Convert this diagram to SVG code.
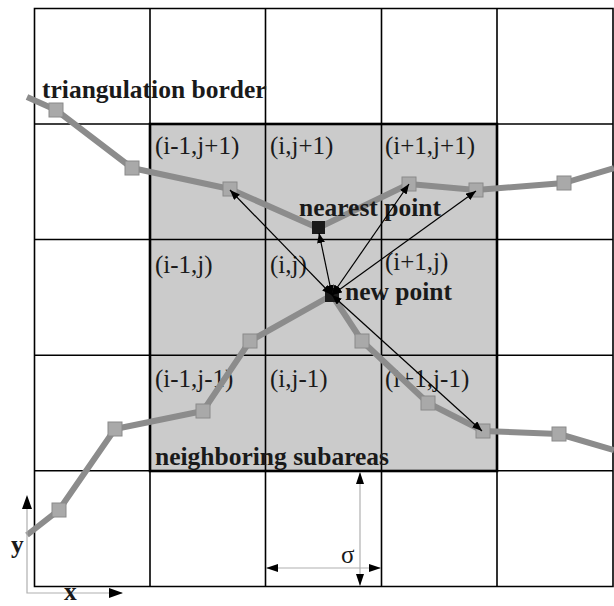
<svg xmlns="http://www.w3.org/2000/svg" width="614" height="606" viewBox="0 0 614 606">
<defs>
<marker id="ah" viewBox="0 0 10 8" refX="10" refY="4" markerWidth="10" markerHeight="8" markerUnits="userSpaceOnUse" orient="auto-start-reverse">
<path d="M0,0 L10,4 L0,8 Z" fill="#000"/>
</marker>
<marker id="ahg" viewBox="0 0 12 8" refX="12" refY="4" markerWidth="12" markerHeight="8" markerUnits="userSpaceOnUse" orient="auto-start-reverse">
<path d="M0,0 L12,4 L0,8 Z" fill="#000"/>
</marker>
<style>
.grid{stroke:#000;stroke-width:1.6;fill:none}
.border{stroke:#8c8c8c;stroke-width:6;fill:none;stroke-linejoin:round}
.sq{fill:#a9a9a9;stroke:#8a8a8a;stroke-width:1}
.bp{fill:#1a1a1a}
.arr{stroke:#000;stroke-width:1.2;fill:none}
.dim{stroke:#b0b0b0;stroke-width:1.2;fill:none}
.lbl{font-family:"Liberation Serif",serif;font-size:25px;fill:#1a1a1a}
.bold{font-family:"Liberation Serif",serif;font-size:25.5px;font-weight:bold;fill:#1a1a1a}
</style>
</defs>
<rect width="614" height="606" fill="#fff"/>
<g id="neighborhood">
<rect x="150" y="124" width="347" height="347" fill="#cbcbcb"/>
</g>
<g id="grid">
<path class="grid" d="M34.5,8.5 H613 V586.5 H34.5 Z M150,8.5 V586.5 M265.5,8.5 V586.5 M381.5,8.5 V586.5 M497,8.5 V586.5 M34.5,124 H613 M34.5,239.5 H613 M34.5,355.3 H613 M34.5,470.7 H613"/>
<rect x="150" y="124" width="347" height="347" fill="none" stroke="#000" stroke-width="2.6"/>
</g>
<g id="labels">
<text class="lbl" x="155" y="154">(i-1,j+1)</text>
<text class="lbl" x="270" y="154">(i,j+1)</text>
<text class="lbl" x="385" y="154">(i+1,j+1)</text>
<text class="lbl" x="155" y="273">(i-1,j)</text>
<text class="lbl" x="270" y="273">(i,j)</text>
<text class="lbl" x="385" y="270">(i+1,j)</text>
<text class="lbl" x="155" y="387">(i-1,j-1)</text>
<text class="lbl" x="270" y="387">(i,j-1)</text>
<text class="lbl" x="385" y="387">(i+1,j-1)</text>
</g>
<g id="border-upper">
<polyline class="border" points="27,97 56,110 132,168 230,189 318,228 409,184 476,190 564,183 614,168"/>
<rect class="sq" x="49" y="103" width="14" height="14"/>
<rect class="sq" x="125" y="161" width="14" height="14"/>
<rect class="sq" x="223" y="182" width="14" height="14"/>
<rect class="sq" x="402" y="177" width="14" height="14"/>
<rect class="sq" x="469" y="183" width="14" height="14"/>
<rect class="sq" x="557" y="176" width="14" height="14"/>
</g>
<g id="border-lower">
<polyline class="border" points="27,535 59,510 115,429 203,411 250,341 332,295 362,341 428,403 483,431 559,434 614,450"/>
<rect class="sq" x="52" y="503" width="14" height="14"/>
<rect class="sq" x="108" y="422" width="14" height="14"/>
<rect class="sq" x="196" y="404" width="14" height="14"/>
<rect class="sq" x="243" y="334" width="14" height="14"/>
<rect class="sq" x="355" y="334" width="14" height="14"/>
<rect class="sq" x="421" y="396" width="14" height="14"/>
<rect class="sq" x="476" y="424" width="14" height="14"/>
<rect class="sq" x="552" y="427" width="14" height="14"/>
</g>
<g id="nearest-point">
<rect class="bp" x="312" y="221" width="13" height="13"/>
<text class="bold" x="299" y="216">nearest point</text>
</g>
<g id="new-point">
<rect class="bp" x="325" y="288" width="14" height="14"/>
<text class="bold" x="345" y="300">new point</text>
</g>
<g id="connectors">
<line class="arr" x1="332" y1="295" x2="230" y2="190" marker-start="url(#ah)" marker-end="url(#ah)"/>
<line class="arr" x1="332" y1="295" x2="319" y2="233" stroke-width="2" marker-start="url(#ah)" marker-end="url(#ah)"/>
<line class="arr" x1="332" y1="295" x2="409" y2="184" marker-start="url(#ah)" marker-end="url(#ah)"/>
<line class="arr" x1="332" y1="295" x2="476" y2="191" marker-start="url(#ah)" marker-end="url(#ah)"/>
<line class="arr" x1="332" y1="295" x2="482" y2="431" marker-start="url(#ah)" marker-end="url(#ah)"/>
</g>
<g id="annotations">
<text class="bold" x="42" y="98">triangulation border</text>
<text class="bold" x="155" y="465">neighboring subareas</text>
<line class="dim" x1="360" y1="472" x2="360" y2="586" marker-start="url(#ahg)" marker-end="url(#ahg)"/>
<line class="dim" x1="266" y1="568" x2="381" y2="568" marker-start="url(#ahg)" marker-end="url(#ahg)"/>
<text class="lbl" x="341" y="563">σ</text>
</g>
<g id="axes">
<polyline class="dim" points="27,497 27,593 122,593"/>
<path d="M22,509 L27,495 L32,509 Z M109,588 L123,593 L109,598 Z" fill="#000"/>
<text class="bold" x="11" y="553">y</text>
<text class="bold" x="64" y="600" font-size="22">x</text>
</g>
</svg>
